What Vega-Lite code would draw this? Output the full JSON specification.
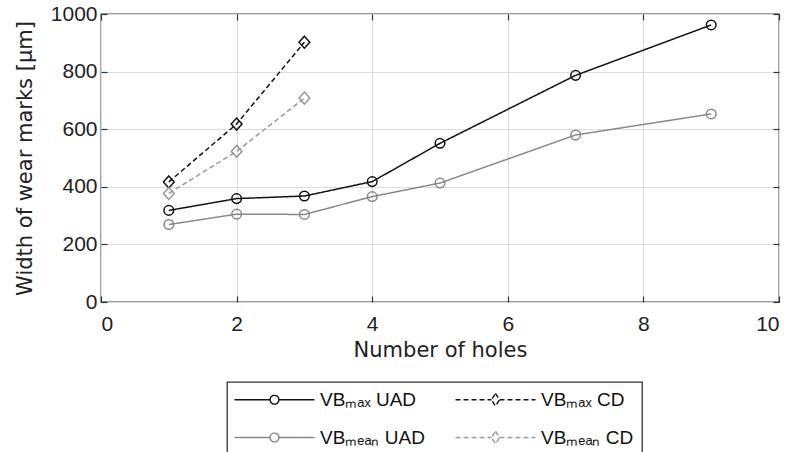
{
  "$schema": "https://vega.github.io/schema/vega-lite/v6.json",
  "width": 678,
  "height": 288,
  "autosize": {"type": "none"},
  "padding": {"left": 101, "top": 14, "right": 13, "bottom": 150},
  "background": "white",
  "config": {
    "view": {"stroke": "#333333", "strokeWidth": 1.3},
    "axis": {
      "labelFont": "Liberation Sans",
      "labelFontSize": 21,
      "labelColor": "#222222",
      "titleFont": "DejaVu Sans",
      "titleFontSize": 21,
      "titleFontWeight": "normal",
      "titleColor": "#222222",
      "gridColor": "#dddddd",
      "gridWidth": 1,
      "domain": false,
      "tickColor": "#333333",
      "tickSize": -6,
      "tickWidth": 1.2
    },
    "legend": {
      "orient": "none",
      "legendX": 126,
      "legendY": 368,
      "columns": 2,
      "strokeColor": "#333333",
      "strokeWidth": 1.3,
      "padding": 8,
      "labelFont": "Liberation Sans",
      "labelFontSize": 19,
      "labelColor": "#111111",
      "labelOffset": 66,
      "symbolSize": 64,
      "rowPadding": 18,
      "columnPadding": 27
    }
  },
  "resolve": {"axis": {"x": "independent", "y": "independent"}},
  "data": {
    "values": [
      {"holes": 1, "width": 318, "series": "VBₘₐₓ UAD", "kind": "UAD"},
      {"holes": 2, "width": 359, "series": "VBₘₐₓ UAD", "kind": "UAD"},
      {"holes": 3, "width": 368, "series": "VBₘₐₓ UAD", "kind": "UAD"},
      {"holes": 4, "width": 418, "series": "VBₘₐₓ UAD", "kind": "UAD"},
      {"holes": 5, "width": 551, "series": "VBₘₐₓ UAD", "kind": "UAD"},
      {"holes": 7, "width": 787, "series": "VBₘₐₓ UAD", "kind": "UAD"},
      {"holes": 9, "width": 962, "series": "VBₘₐₓ UAD", "kind": "UAD"},
      {"holes": 1, "width": 269, "series": "VBₘₑₐₙ UAD", "kind": "UAD"},
      {"holes": 2, "width": 305, "series": "VBₘₑₐₙ UAD", "kind": "UAD"},
      {"holes": 3, "width": 304, "series": "VBₘₑₐₙ UAD", "kind": "UAD"},
      {"holes": 4, "width": 366, "series": "VBₘₑₐₙ UAD", "kind": "UAD"},
      {"holes": 5, "width": 413, "series": "VBₘₑₐₙ UAD", "kind": "UAD"},
      {"holes": 7, "width": 580, "series": "VBₘₑₐₙ UAD", "kind": "UAD"},
      {"holes": 9, "width": 653, "series": "VBₘₑₐₙ UAD", "kind": "UAD"},
      {"holes": 1, "width": 417, "series": "VBₘₐₓ CD", "kind": "CD"},
      {"holes": 2, "width": 618, "series": "VBₘₐₓ CD", "kind": "CD"},
      {"holes": 3, "width": 902, "series": "VBₘₐₓ CD", "kind": "CD"},
      {"holes": 1, "width": 377, "series": "VBₘₑₐₙ CD", "kind": "CD"},
      {"holes": 2, "width": 523, "series": "VBₘₑₐₙ CD", "kind": "CD"},
      {"holes": 3, "width": 708, "series": "VBₘₑₐₙ CD", "kind": "CD"}
    ]
  },
  "layer": [
    {
      "mark": {"type": "line", "strokeWidth": 1.5},
      "encoding": {
        "x": {"field": "holes", "type": "quantitative", "scale": {"domain": [0, 10], "nice": false},
              "axis": {"orient": "bottom", "values": [0, 2, 4, 6, 8, 10], "format": "d", "title": "Number of holes", "labelPadding": 17, "titlePadding": 5}},
        "y": {"field": "width", "type": "quantitative", "scale": {"domain": [0, 1000], "nice": false},
              "axis": {"orient": "left", "values": [0, 200, 400, 600, 800, 1000], "format": "d", "title": "Width of wear marks [µm]", "labelPadding": 10, "titlePadding": 15}},
        "color": {"field": "series", "type": "nominal",
          "scale": {"domain": ["VBₘₐₓ UAD", "VBₘₑₐₙ UAD", "VBₘₐₓ CD", "VBₘₑₐₙ CD"],
                    "range": ["#111111", "#888888", "#111111", "#999999"]},
          "legend": {
            "title": null,
            "encode": {"symbols": {"update": {
              "shape": {"signal": "indexof(datum.value, 'CD') >= 0 ? 'M-2.5,0L6.5,0M8.5,0L17.5,0M7.5,-1.6L8.5,0L7.5,1.6L6.5,0Z' : 'M-2.5,0L6.4,0M8.6,0L17.5,0M6.4,0A1.1,1.1 0 1,1 8.6,0A1.1,1.1 0 1,1 6.4,0'"},
              "strokeDash": {"signal": "indexof(datum.value, 'CD') >= 0 ? [4, 3] : [1, 0]"},
              "fill": {"value": "transparent"},
              "size": {"value": 64},
              "strokeWidth": {"value": 1.4},
              "opacity": {"value": 1}
            }}}
          }},
        "strokeDash": {"field": "series", "type": "nominal",
          "scale": {"domain": ["VBₘₐₓ UAD", "VBₘₑₐₙ UAD", "VBₘₐₓ CD", "VBₘₑₐₙ CD"],
                    "range": [[1, 0], [1, 0], [5, 3], [5, 3]]},
          "legend": null}
      }
    },
    {
      "transform": [{"filter": "datum.kind === 'UAD'"}],
      "mark": {"type": "point", "filled": false, "size": 144, "strokeWidth": 1.5, "opacity": 1,
               "shape": "M-0.8,0A0.8,0.8 0 1,1 0.8,0A0.8,0.8 0 1,1 -0.8,0"},
      "encoding": {
        "x": {"field": "holes", "type": "quantitative", "axis": null},
        "y": {"field": "width", "type": "quantitative", "axis": null},
        "color": {"field": "series", "type": "nominal"}
      }
    },
    {
      "transform": [{"filter": "datum.kind === 'CD'"}],
      "mark": {"type": "point", "filled": false, "size": 144, "strokeWidth": 1.5, "opacity": 1,
               "shape": "M0,-1L0.9,0L0,1L-0.9,0Z"},
      "encoding": {
        "x": {"field": "holes", "type": "quantitative", "axis": null},
        "y": {"field": "width", "type": "quantitative", "axis": null},
        "color": {"field": "series", "type": "nominal"}
      }
    },
    {
      "mark": {"type": "point", "opacity": 0},
      "encoding": {
        "x": {"field": "holes", "type": "quantitative",
              "axis": {"orient": "top", "values": [0, 2, 4, 6, 8, 10], "labels": false, "grid": false, "title": null}},
        "y": {"field": "width", "type": "quantitative",
              "axis": {"orient": "right", "values": [0, 200, 400, 600, 800, 1000], "labels": false, "grid": false, "title": null}}
      }
    }
  ]
}
